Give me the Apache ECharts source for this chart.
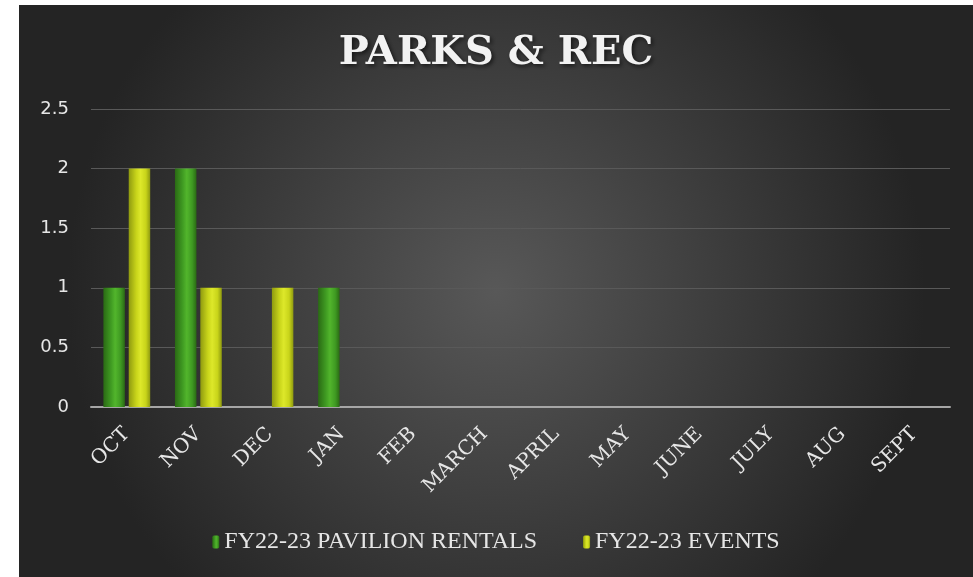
<!DOCTYPE html>
<html>
<head>
<meta charset="utf-8">
<script src="https://cdn.jsdelivr.net/npm/echarts@6/dist/echarts.min.js"></script>
<style>
html,body{margin:0;padding:0;background:#fff;width:973px;height:577px;overflow:hidden;}
#c{position:absolute;left:19px;top:5px;width:954px;height:572px;}
</style>
</head>
<body>
<div id="c"></div>
<script>
const categories = ['OCT','NOV','DEC','JAN','FEB','MARCH','APRIL','MAY','JUNE','JULY','AUG','SEPT'];
const pavilionRentals = [1, 2, null, 1, null, null, null, null, null, null, null, null];
const events = [2, 1, 1, null, null, null, null, null, null, null, null, null];
const yTicks = [0, 0.5, 1, 1.5, 2, 2.5];

const chart = echarts.init(document.getElementById('c'));
function barGrad(edge, mid, hi){
  return new echarts.graphic.LinearGradient(0,0,1,0,[
    {offset:0,color:edge},{offset:0.35,color:mid},{offset:0.55,color:hi},{offset:0.8,color:mid},{offset:1,color:edge}
  ]);
}
chart.setOption({
  backgroundColor: new echarts.graphic.RadialGradient(0.5,0.5,0.75,[
    {offset:0,color:'#585858'},{offset:1,color:'#242424'}
  ]),
  title:{
    text:'PARKS & REC', left:'center', top:24,
    textStyle:{color:'#f2f2f2', fontSize:40, fontWeight:'bold', fontFamily:'DejaVu Serif',
      textShadowColor:'rgba(0,0,0,0.6)', textShadowBlur:4, textShadowOffsetX:2, textShadowOffsetY:2}
  },
  legend:{
    bottom:18, left:'center', itemWidth:7, itemHeight:13, itemGap:46,
    textStyle:{color:'#e6e6e6', fontSize:24, fontFamily:'Liberation Serif'},
    data:['FY22-23 PAVILION RENTALS','FY22-23 EVENTS']
  },
  grid:{left:72, right:23, top:104, bottom:170},
  xAxis:{
    type:'category', data:categories,
    axisLine:{lineStyle:{color:'#a6a6a6', width:2}},
    axisTick:{show:false},
    axisLabel:{rotate:45, color:'#e6e6e6', fontSize:20, fontFamily:'DejaVu Serif', margin:24}
  },
  yAxis:{
    type:'value', min:0, max:2.5, interval:0.5,
    axisLine:{show:false}, axisTick:{show:false},
    axisLabel:{color:'#e6e6e6', fontSize:18, fontFamily:'DejaVu Sans', margin:22,
      formatter:v=> yTicks.includes(v) ? String(v) : ''},
    splitLine:{lineStyle:{color:'#595959', width:1}}
  },
  series:[
    {name:'FY22-23 PAVILION RENTALS', type:'bar', data:pavilionRentals, barWidth:'30%', barGap:'18%',
      itemStyle:{color:barGrad('#2a6a14','#3f9a22','#52b52c')}},
    {name:'FY22-23 EVENTS', type:'bar', data:events, barWidth:'30%', barGap:'18%',
      itemStyle:{color:barGrad('#8f9a10','#c8d41a','#dde82a')}}
  ]
});
</script>
</body>
</html>
